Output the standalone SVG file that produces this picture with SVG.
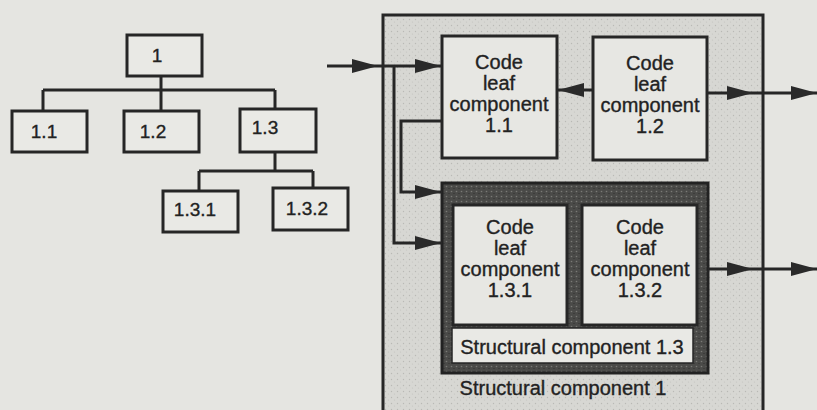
<svg xmlns="http://www.w3.org/2000/svg" width="817" height="410" viewBox="0 0 817 410">
<style>
.bg{fill:#e5e5e1}
.tbox{fill:#e9e9e5;stroke:#262626;stroke-width:3}
.leaf{fill:#e7e7e3;stroke:#262626;stroke-width:3}
.ln{fill:none;stroke:#262626;stroke-width:3}
.ah{fill:#2a2a2a}
.t{font-family:"Liberation Sans",Arial,sans-serif;fill:#222;stroke:#222;stroke-width:0.35;text-anchor:middle}
.tl{font-size:19px}
.cl{font-size:20px}
</style>
<defs>
<pattern id="stip" width="6" height="6" patternUnits="userSpaceOnUse">
<rect width="6" height="6" fill="#d7d7d3"/>
<circle cx="1.5" cy="1.5" r="0.7" fill="#b9b9b5"/>
<circle cx="4.5" cy="4" r="0.6" fill="#c4c4c0"/>
</pattern>
<pattern id="dstip" width="5" height="5" patternUnits="userSpaceOnUse">
<rect width="5" height="5" fill="#4a4a48"/>
<circle cx="1.5" cy="1.5" r="0.8" fill="#7a7a76"/>
<circle cx="4" cy="3.5" r="0.6" fill="#2c2c2a"/>
</pattern>
<path id="ah" d="M0,0 L-26,-7 L-26,7 Z"/>
</defs>
<rect class="bg" x="0" y="0" width="817" height="410"/>

<g id="tree-connectors">
<path class="ln" d="M161,76 V90 M43,90 H275 M43,90 V111 M161,90 V111 M275,90 V109 M275,152 V171 M199,171 H313 M199,171 V191 M313,171 V188"/>
</g>
<g id="t1"><rect class="tbox" x="127" y="35" width="75" height="41"/><text class="t tl" x="157" y="62">1</text></g>
<g id="t11"><rect class="tbox" x="12" y="111" width="75" height="41"/><text class="t tl" x="44" y="138">1.1</text></g>
<g id="t12"><rect class="tbox" x="124" y="111" width="75" height="41"/><text class="t tl" x="153" y="138">1.2</text></g>
<g id="t13"><rect class="tbox" x="240" y="109" width="76" height="43"/><text class="t tl" x="265" y="134">1.3</text></g>
<g id="t131"><rect class="tbox" x="163" y="191" width="75" height="41"/><text class="t tl" x="195" y="216">1.3.1</text></g>
<g id="t132"><rect class="tbox" x="273" y="188" width="75" height="42"/><text class="t tl" x="307" y="215">1.3.2</text></g>

<g id="sc1">
<rect x="383" y="15" width="380" height="400" fill="url(#stip)" stroke="#262626" stroke-width="3"/>
<text class="t cl" x="563" y="395">Structural component 1</text>
</g>

<g id="leaf11">
<rect class="leaf" x="442" y="36" width="115" height="122"/>
<text class="t cl" x="499" y="69">Code</text>
<text class="t cl" x="499" y="90">leaf</text>
<text class="t cl" x="499" y="111">component</text>
<text class="t cl" x="499" y="132">1.1</text>
</g>
<g id="leaf12">
<rect class="leaf" x="593" y="37" width="114" height="123"/>
<text class="t cl" x="650" y="70">Code</text>
<text class="t cl" x="650" y="91">leaf</text>
<text class="t cl" x="650" y="112">component</text>
<text class="t cl" x="650" y="133">1.2</text>
</g>

<g id="sc13">
<rect x="442" y="183" width="266" height="190" fill="url(#dstip)" stroke="#222" stroke-width="3"/>
<rect x="452" y="328" width="241" height="35" fill="#e9e9e5" stroke="#262626" stroke-width="1.5"/>
<text class="t cl" x="572" y="354">Structural component 1.3</text>
</g>
<g id="leaf131">
<rect class="leaf" x="453" y="205" width="114" height="120"/>
<text class="t cl" x="510" y="234">Code</text>
<text class="t cl" x="510" y="255">leaf</text>
<text class="t cl" x="510" y="276">component</text>
<text class="t cl" x="510" y="297">1.3.1</text>
</g>
<g id="leaf132">
<rect class="leaf" x="582" y="205" width="115" height="120"/>
<text class="t cl" x="640" y="234">Code</text>
<text class="t cl" x="640" y="255">leaf</text>
<text class="t cl" x="640" y="276">component</text>
<text class="t cl" x="640" y="297">1.3.2</text>
</g>

<g id="connectors">
<path class="ln" d="M327,66 H442"/>
<path class="ln" d="M394,66 V243 H442"/>
<path class="ln" d="M442,121 H401 V192 H442"/>
<path class="ln" d="M593,90 H557"/>
<path class="ln" d="M707,93 H817"/>
<path class="ln" d="M708,269 H817"/>
<use href="#ah" class="ah" transform="translate(378,66)"/>
<use href="#ah" class="ah" transform="translate(441,66)"/>
<use href="#ah" class="ah" transform="translate(441,243)"/>
<use href="#ah" class="ah" transform="translate(441,192)"/>
<use href="#ah" class="ah" transform="translate(558,90) rotate(180)"/>
<use href="#ah" class="ah" transform="translate(753,93)"/>
<use href="#ah" class="ah" transform="translate(817,93)"/>
<use href="#ah" class="ah" transform="translate(753,269)"/>
<use href="#ah" class="ah" transform="translate(817,269)"/>
</g>
</svg>
